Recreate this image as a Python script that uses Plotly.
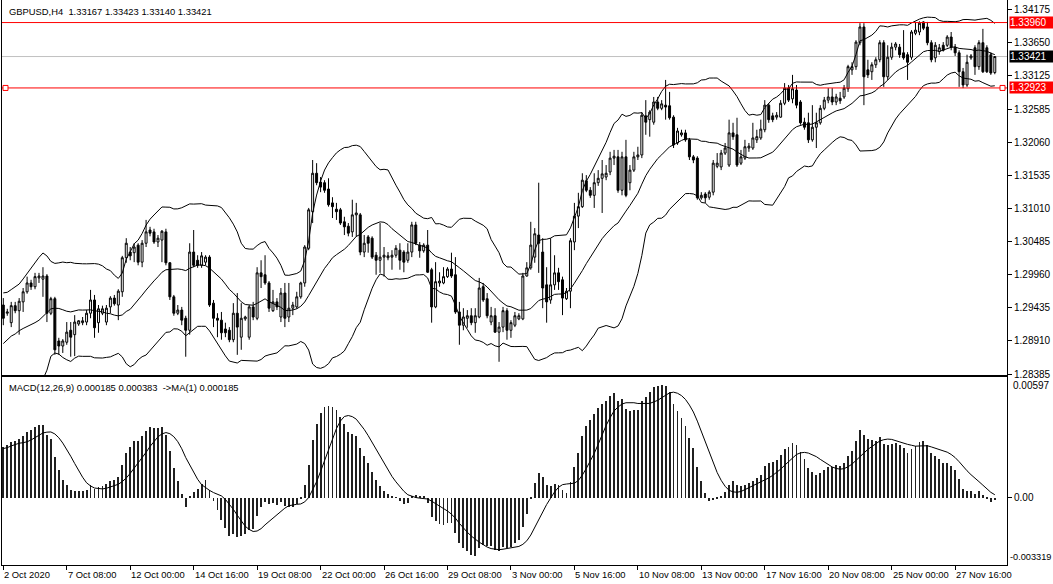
import numpy as np
import pandas as pd
import plotly.graph_objects as go

# ---------------- data ----------------
symbol_header = "GBPUSD,H4  1.33167 1.33423 1.33140 1.33421"
macd_header = "MACD(12,26,9) 0.000185 0.000383  ->MA(1) 0.000185"

time_labels = ["2 Oct 2020", "7 Oct 08:00", "12 Oct 00:00", "14 Oct 16:00", "19 Oct 08:00",
               "22 Oct 00:00", "26 Oct 16:00", "29 Oct 08:00", "3 Nov 00:00", "5 Nov 16:00",
               "10 Nov 08:00", "13 Nov 00:00", "17 Nov 16:00", "20 Nov 08:00", "25 Nov 00:00",
               "27 Nov 16:00"]
time_label_bars = [0, 16, 32, 48, 64, 80, 96, 112, 128, 144, 160, 176, 192, 208, 224, 240]

price_ticks = [1.34175, 1.33650, 1.33125, 1.32585, 1.32060, 1.31535, 1.31010,
               1.30485, 1.29960, 1.29435, 1.28910, 1.28385]
resistance_level = 1.33960
support_level = 1.32923
bid_price = 1.33421
macd_top_label = 0.00597
macd_bottom_label = -0.003319

# estimated closes before the first visible bar (indicator warm-up only)
prior_closes = [1.2735, 1.2728, 1.2742, 1.2755, 1.2748, 1.2760, 1.2775, 1.2770, 1.2762, 1.2780,
                1.2795, 1.2790, 1.2810, 1.2825, 1.2818, 1.2830, 1.2845, 1.2838, 1.2850, 1.2862,
                1.2845, 1.2810, 1.2837, 1.2871, 1.2851, 1.2898, 1.2925, 1.2905, 1.2938, 1.2918,
                1.2864, 1.2837, 1.2824, 1.2857, 1.2891, 1.2932, 1.2952, 1.2918, 1.2884, 1.2898]

opens = [1.2948, 1.2935, 1.2920, 1.2947, 1.2939, 1.2953, 1.2969, 1.2983, 1.2977, 1.2991,
         1.2989, 1.2994, 1.2935, 1.2958, 1.2891, 1.2883, 1.2889, 1.2908, 1.2901, 1.2918,
         1.2920, 1.2921, 1.2935, 1.2956, 1.2920, 1.2935, 1.2921, 1.2945, 1.2959, 1.2948,
         1.2969, 1.3023, 1.3032, 1.3031, 1.3043, 1.3016, 1.3046, 1.3067, 1.3064, 1.3048,
         1.3051, 1.3064, 1.3015, 1.2961, 1.2935, 1.2940, 1.2927, 1.2908, 1.3032, 1.3019,
         1.3011, 1.3016, 1.3024, 1.2951, 1.2927, 1.2924, 1.2910, 1.2908, 1.2893, 1.2935,
         1.2897, 1.2926, 1.2897, 1.2945, 1.2927, 1.2999, 1.2996, 1.2983, 1.2939, 1.2953,
         1.2929, 1.2967, 1.2929, 1.2943, 1.2945, 1.2961, 1.2983, 1.3038, 1.3096, 1.3157,
         1.3143, 1.3142, 1.3132, 1.3110, 1.3100, 1.3099, 1.3080, 1.3073, 1.3064, 1.3091,
         1.3091, 1.3032, 1.3056, 1.3054, 1.3027, 1.3019, 1.3024, 1.3023, 1.3024, 1.3027,
         1.3035, 1.3032, 1.3019, 1.3032, 1.3075, 1.3043, 1.3034, 1.3043, 1.3004, 1.2945,
         1.2983, 1.2983, 1.2993, 1.3005, 1.2996, 1.2937, 1.2916, 1.2927, 1.2931, 1.2920,
         1.2929, 1.2977, 1.2958, 1.2921, 1.2931, 1.2905, 1.2913, 1.2939, 1.2908, 1.2916,
         1.2926, 1.2926, 1.2994, 1.3007, 1.3024, 1.3059, 1.3032, 1.2980, 1.2956, 1.2980,
         1.2999, 1.2988, 1.2958, 1.2970, 1.3048, 1.3089, 1.3104, 1.3145, 1.3130, 1.3122,
         1.3142, 1.3149, 1.3151, 1.3159, 1.3181, 1.3183, 1.3130, 1.3183, 1.3142, 1.3162,
         1.3183, 1.3186, 1.3248, 1.3242, 1.3238, 1.3270, 1.3260, 1.3265, 1.3264, 1.3246,
         1.3205, 1.3218, 1.3221, 1.3210, 1.3183, 1.3181, 1.3118, 1.3124, 1.3119, 1.3127,
         1.3168, 1.3167, 1.3189, 1.3170, 1.3221, 1.3218, 1.3173, 1.3181, 1.3197, 1.3197,
         1.3210, 1.3213, 1.3226, 1.3265, 1.3248, 1.3246, 1.3246, 1.3268, 1.3292, 1.3275,
         1.3289, 1.3270, 1.3238, 1.3237, 1.3210, 1.3230, 1.3237, 1.3260, 1.3273, 1.3278,
         1.3270, 1.3276, 1.3278, 1.3291, 1.3321, 1.3326, 1.3364, 1.3389, 1.3321, 1.3318,
         1.3329, 1.3337, 1.3364, 1.3310, 1.3341, 1.3357, 1.3357, 1.3348, 1.3345, 1.3341,
         1.3379, 1.3381, 1.3397, 1.3389, 1.3364, 1.3340, 1.3350, 1.3360, 1.3360, 1.3373,
         1.3357, 1.3348, 1.3318, 1.3297, 1.3340, 1.3356, 1.3326, 1.3364, 1.3356, 1.3345,
         1.33167]

highs = [1.2959, 1.2942, 1.2953, 1.2953, 1.2959, 1.2975, 1.2993, 1.2988, 1.2999, 1.2999,
         1.3008, 1.2997, 1.2961, 1.2961, 1.2896, 1.2894, 1.2921, 1.2921, 1.2932, 1.2924,
         1.2929, 1.2940, 1.2972, 1.2964, 1.2948, 1.2947, 1.2948, 1.2962, 1.2964, 1.2973,
         1.3026, 1.3054, 1.3040, 1.3046, 1.3046, 1.3051, 1.3083, 1.3072, 1.3069, 1.3059,
         1.3067, 1.3069, 1.3016, 1.2964, 1.2948, 1.2945, 1.2931, 1.3046, 1.3067, 1.3027,
         1.3032, 1.3027, 1.3027, 1.2956, 1.2935, 1.2937, 1.2920, 1.2913, 1.2951, 1.2967,
         1.2951, 1.2931, 1.2948, 1.2953, 1.3008, 1.3019, 1.3027, 1.2986, 1.2972, 1.2959,
         1.2975, 1.2983, 1.2983, 1.2953, 1.2969, 1.2985, 1.3043, 1.3102, 1.3178, 1.3173,
         1.3151, 1.3146, 1.3149, 1.3119, 1.3110, 1.3102, 1.3088, 1.3078, 1.3115, 1.3110,
         1.3094, 1.3059, 1.3059, 1.3057, 1.3032, 1.3078, 1.3040, 1.3032, 1.3035, 1.3043,
         1.3046, 1.3035, 1.3046, 1.3080, 1.3080, 1.3048, 1.3046, 1.3067, 1.3007, 1.3016,
         1.3000, 1.3008, 1.3008, 1.3031, 1.3024, 1.2953, 1.2943, 1.2940, 1.2943, 1.2943,
         1.2991, 1.2983, 1.2967, 1.2945, 1.2943, 1.2921, 1.2945, 1.2943, 1.2924, 1.2937,
         1.2935, 1.2999, 1.3016, 1.3080, 1.3070, 1.3142, 1.3054, 1.3008, 1.3054, 1.3027,
         1.3007, 1.2993, 1.2975, 1.3054, 1.3110, 1.3126, 1.3157, 1.3154, 1.3135, 1.3157,
         1.3162, 1.3178, 1.3170, 1.3191, 1.3194, 1.3194, 1.3191, 1.3210, 1.3170, 1.3191,
         1.3199, 1.3254, 1.3273, 1.3257, 1.3278, 1.3278, 1.3273, 1.3305, 1.3286, 1.3249,
         1.3229, 1.3226, 1.3226, 1.3213, 1.3186, 1.3184, 1.3127, 1.3127, 1.3130, 1.3178,
         1.3189, 1.3194, 1.3205, 1.3242, 1.3237, 1.3245, 1.3194, 1.3210, 1.3205, 1.3237,
         1.3226, 1.3242, 1.3273, 1.3268, 1.3253, 1.3254, 1.3273, 1.3300, 1.3297, 1.3313,
         1.3297, 1.3273, 1.3245, 1.3253, 1.3265, 1.3253, 1.3265, 1.3278, 1.3292, 1.3292,
         1.3283, 1.3286, 1.3297, 1.3329, 1.3333, 1.3368, 1.3395, 1.3395, 1.3337, 1.3333,
         1.3341, 1.3368, 1.3368, 1.3360, 1.3364, 1.3365, 1.3362, 1.3384, 1.3349, 1.3384,
         1.3397, 1.3398, 1.3398, 1.3397, 1.3368, 1.3365, 1.3362, 1.3365, 1.3376, 1.3381,
         1.3362, 1.3352, 1.3324, 1.3345, 1.3346, 1.3360, 1.3368, 1.3386, 1.3360, 1.3349,
         1.33423]

lows = [1.2916, 1.2931, 1.2913, 1.2935, 1.2901, 1.2937, 1.2966, 1.2972, 1.2973, 1.2983,
        1.2961, 1.2921, 1.2932, 1.2869, 1.2869, 1.2872, 1.2885, 1.2866, 1.2867, 1.2915,
        1.2916, 1.2916, 1.2927, 1.2896, 1.2904, 1.2932, 1.2916, 1.2935, 1.2947, 1.2924,
        1.2961, 1.3015, 1.3019, 1.3016, 1.3011, 1.3008, 1.3040, 1.3057, 1.3045, 1.3040,
        1.3016, 1.3011, 1.2956, 1.2931, 1.2932, 1.2916, 1.2866, 1.2901, 1.3008, 1.3007,
        1.3007, 1.3011, 1.2945, 1.2913, 1.2897, 1.2893, 1.2897, 1.2889, 1.2889, 1.2869,
        1.2877, 1.2923, 1.2893, 1.2924, 1.2924, 1.2975, 1.2980, 1.2937, 1.2937, 1.2940,
        1.2921, 1.2913, 1.2921, 1.2932, 1.2942, 1.2958, 1.2977, 1.3035, 1.3078, 1.3138,
        1.3127, 1.3126, 1.3104, 1.3086, 1.3083, 1.3075, 1.3059, 1.3057, 1.3056, 1.3056,
        1.3027, 1.3024, 1.3031, 1.3021, 1.2996, 1.2999, 1.2993, 1.3019, 1.3004, 1.3023,
        1.3004, 1.3000, 1.3015, 1.3024, 1.3043, 1.3023, 1.3031, 1.2999, 1.2920, 1.2943,
        1.2977, 1.2981, 1.2991, 1.2991, 1.2934, 1.2885, 1.2908, 1.2912, 1.2916, 1.2904,
        1.2927, 1.2953, 1.2927, 1.2916, 1.2904, 1.2858, 1.2905, 1.2893, 1.2896, 1.2913,
        1.2924, 1.2924, 1.2993, 1.3004, 1.3015, 1.2999, 1.2943, 1.2920, 1.2950, 1.2972,
        1.2972, 1.2932, 1.2956, 1.2943, 1.3035, 1.3070, 1.3102, 1.3127, 1.3118, 1.3102,
        1.3137, 1.3094, 1.3146, 1.3154, 1.3170, 1.3126, 1.3122, 1.3119, 1.3130, 1.3159,
        1.3178, 1.3181, 1.3218, 1.3215, 1.3234, 1.3257, 1.3257, 1.3242, 1.3242, 1.3197,
        1.3202, 1.3215, 1.3207, 1.3178, 1.3173, 1.3115, 1.3115, 1.3110, 1.3115, 1.3122,
        1.3165, 1.3162, 1.3186, 1.3167, 1.3210, 1.3167, 1.3170, 1.3178, 1.3191, 1.3194,
        1.3205, 1.3210, 1.3222, 1.3237, 1.3238, 1.3242, 1.3245, 1.3265, 1.3270, 1.3268,
        1.3260, 1.3234, 1.3226, 1.3205, 1.3207, 1.3197, 1.3234, 1.3257, 1.3268, 1.3265,
        1.3265, 1.3267, 1.3275, 1.3286, 1.3313, 1.3321, 1.3360, 1.3265, 1.3308, 1.3305,
        1.3324, 1.3333, 1.3294, 1.3305, 1.3337, 1.3352, 1.3340, 1.3337, 1.3305, 1.3337,
        1.3376, 1.3376, 1.3384, 1.3360, 1.3333, 1.3333, 1.3345, 1.3350, 1.3357, 1.3352,
        1.3343, 1.3294, 1.3292, 1.3294, 1.3337, 1.3313, 1.3321, 1.3316, 1.3316, 1.3313,
        1.33140]

closes = [1.2927, 1.2937, 1.2947, 1.2939, 1.2954, 1.2969, 1.2983, 1.2977, 1.2993, 1.2994,
          1.2994, 1.2935, 1.2958, 1.2877, 1.2883, 1.2891, 1.2905, 1.2897, 1.2921, 1.2923,
          1.2923, 1.2935, 1.2956, 1.2912, 1.2942, 1.2942, 1.2943, 1.2959, 1.2950, 1.2970,
          1.3023, 1.3046, 1.3026, 1.3040, 1.3016, 1.3046, 1.3064, 1.3062, 1.3048, 1.3054,
          1.3065, 1.3015, 1.2961, 1.2935, 1.2940, 1.2924, 1.2908, 1.3032, 1.3011, 1.3011,
          1.3026, 1.3024, 1.2948, 1.2927, 1.2924, 1.2904, 1.2904, 1.2893, 1.2935, 1.2913,
          1.2927, 1.2929, 1.2945, 1.2929, 1.2999, 1.2993, 1.2983, 1.2943, 1.2953, 1.2945,
          1.2967, 1.2927, 1.2943, 1.2948, 1.2961, 1.2983, 1.3040, 1.3099, 1.3157, 1.3142,
          1.3135, 1.3130, 1.3107, 1.3104, 1.3096, 1.3078, 1.3072, 1.3062, 1.3091, 1.3094,
          1.3032, 1.3046, 1.3046, 1.3024, 1.3019, 1.3024, 1.3027, 1.3026, 1.3027, 1.3038,
          1.3019, 1.3016, 1.3032, 1.3075, 1.3046, 1.3034, 1.3043, 1.3000, 1.2945, 1.2985,
          1.2986, 1.2993, 1.3005, 1.2994, 1.2937, 1.2916, 1.2929, 1.2931, 1.2920, 1.2931,
          1.2975, 1.2956, 1.2931, 1.2931, 1.2905, 1.2913, 1.2939, 1.2908, 1.2920, 1.2931,
          1.2931, 1.2994, 1.3007, 1.3043, 1.3061, 1.3046, 1.2975, 1.2953, 1.2980, 1.2999,
          1.2985, 1.2959, 1.2970, 1.3050, 1.3089, 1.3104, 1.3146, 1.3130, 1.3122, 1.3142,
          1.3149, 1.3156, 1.3157, 1.3181, 1.3184, 1.3130, 1.3183, 1.3122, 1.3162, 1.3183,
          1.3186, 1.3249, 1.3238, 1.3254, 1.3270, 1.3260, 1.3267, 1.3262, 1.3245, 1.3202,
          1.3224, 1.3221, 1.3210, 1.3183, 1.3178, 1.3118, 1.3122, 1.3118, 1.3127, 1.3173,
          1.3173, 1.3189, 1.3197, 1.3221, 1.3215, 1.3170, 1.3183, 1.3199, 1.3200, 1.3213,
          1.3215, 1.3227, 1.3265, 1.3242, 1.3242, 1.3249, 1.3268, 1.3292, 1.3273, 1.3291,
          1.3265, 1.3237, 1.3230, 1.3210, 1.3230, 1.3237, 1.3260, 1.3273, 1.3278, 1.3270,
          1.3278, 1.3272, 1.3292, 1.3326, 1.3326, 1.3365, 1.3389, 1.3310, 1.3313, 1.3329,
          1.3337, 1.3364, 1.3310, 1.3341, 1.3357, 1.3362, 1.3345, 1.3340, 1.3333, 1.3381,
          1.3384, 1.3395, 1.3387, 1.3364, 1.3337, 1.3360, 1.3356, 1.3352, 1.3373, 1.3357,
          1.3348, 1.3318, 1.3297, 1.3333, 1.3343, 1.3326, 1.3364, 1.3318, 1.3318, 1.3316,
          1.33421]

# ---------------- indicators ----------------
bars = np.arange(len(closes))
all_close = np.array(prior_closes + closes)
n_prior = len(prior_closes)


def ema(x, n):
    a = 2.0 / (n + 1)
    out = np.empty_like(x)
    out[0] = x[0]
    for i in range(1, len(x)):
        out[i] = a * x[i] + (1 - a) * out[i - 1]
    return out


s = pd.Series(all_close)
bb_mid = s.rolling(20).mean().to_numpy()[n_prior:]
bb_std = s.rolling(20).std(ddof=0).to_numpy()[n_prior:]
bb_up = bb_mid + 2 * bb_std
bb_lo = bb_mid - 2 * bb_std
macd_all = ema(all_close, 12) - ema(all_close, 26)
signal_all = pd.Series(macd_all).rolling(9).mean().to_numpy()
macd = macd_all[n_prior:]
signal = signal_all[n_prior:]

# ---------------- figure ----------------
W, H = 1053, 584
ML, MR, MT, MB = 2, 46, 0, 19
plot_h = H - MT - MB
main_bottom_px = 375
macd_top_px = 377
main_domain = [(plot_h - main_bottom_px) / plot_h, 1.0]
macd_domain = [0.0, (plot_h - macd_top_px) / plot_h]
px_per_price = 1 / 0.0001586
y_top = 1.34175 + 9 / px_per_price
y_bot = y_top - main_bottom_px / px_per_price
bar_px = 3.966
x_left = -(3.3 - 2) / bar_px
x_right = x_left + (W - ML - MR) / bar_px

FONT = "Liberation Sans, Arial, sans-serif"
TXT = 9.4

fig = go.Figure()
for band in (bb_up, bb_mid, bb_lo):
    fig.add_trace(go.Scatter(x=bars, y=band, mode="lines",
                             line=dict(color="black", width=1),
                             hoverinfo="skip", xaxis="x", yaxis="y"))

fig.add_trace(go.Candlestick(
    x=bars, open=opens, high=highs, low=lows, close=closes,
    increasing=dict(line=dict(color="black", width=1), fillcolor="white"),
    decreasing=dict(line=dict(color="black", width=1), fillcolor="black"),
    xaxis="x", yaxis="y"))

fig.add_trace(go.Bar(x=bars, y=macd, width=0.22, marker=dict(color="#202020", line=dict(width=0)),
                     xaxis="x2", yaxis="y2"))
fig.add_trace(go.Scatter(x=bars, y=signal, mode="lines", line=dict(color="black", width=1),
                         xaxis="x2", yaxis="y2"))

shapes = [
    dict(type="line", xref="paper", x0=0, x1=1, yref="y", y0=bid_price, y1=bid_price,
         line=dict(color="#C0C0C0", width=1), layer="below"),
    dict(type="line", xref="paper", x0=0, x1=1, yref="y", y0=resistance_level, y1=resistance_level,
         line=dict(color="#FF0000", width=1)),
    dict(type="line", xref="paper", x0=0, x1=1, yref="y", y0=support_level, y1=support_level,
         line=dict(color="#FF0000", width=1)),
    dict(type="rect", xref="paper", xsizemode="pixel", xanchor=0, x0=1, x1=6,
         yref="y", ysizemode="pixel", yanchor=support_level, y0=-2.5, y1=2.5,
         line=dict(color="#FF0000", width=1), fillcolor="white"),
    dict(type="rect", xref="paper", xsizemode="pixel", xanchor=1, x0=-7, x1=-2,
         yref="y", ysizemode="pixel", yanchor=support_level, y0=-2.5, y1=2.5,
         line=dict(color="#FF0000", width=1), fillcolor="white"),
]

annotations = [
    dict(text=symbol_header, xref="paper", yref="paper", x=0, y=1, xanchor="left", yanchor="top",
         xshift=5, yshift=-4, showarrow=False, font=dict(family=FONT, size=TXT, color="black")),
    dict(text=macd_header, xref="paper", yref="paper", x=0, y=macd_domain[1], xanchor="left",
         yanchor="top", xshift=5, yshift=-3, showarrow=False,
         font=dict(family=FONT, size=TXT, color="black")),
    dict(text=f"{macd_top_label:.5f}", xref="paper", yref="paper", x=1, y=macd_domain[1],
         xanchor="left", yanchor="top", xshift=4, yshift=-1, showarrow=False,
         font=dict(family=FONT, size=10, color="black")),
    dict(text=f"{macd_bottom_label:.6f}", xref="paper", yref="paper", x=1, y=0,
         xanchor="left", yanchor="bottom", xshift=1, yshift=1, showarrow=False,
         font=dict(family=FONT, size=9.2, color="black")),
]
for lvl, bg in ((resistance_level, "#FF0000"), (support_level, "#FF0000"), (bid_price, "black")):
    annotations.append(dict(text=f"{lvl:.5f}", xref="paper", yref="y", x=1, y=lvl,
                            xanchor="left", yanchor="middle", xshift=2, showarrow=False,
                            bgcolor=bg, width=43, height=11, borderpad=0, align="left",
                            font=dict(family=FONT, size=10, color="white")))
for b, lab in zip(time_label_bars, time_labels):
    annotations.append(dict(text=lab, xref="x2", yref="paper", x=b, y=0, xanchor="left",
                            yanchor="top", xshift=-1, yshift=-2, showarrow=False,
                            font=dict(family=FONT, size=TXT, color="black")))

axis_common = dict(showgrid=False, zeroline=False, showline=True, mirror=True,
                   linecolor="black", linewidth=1, tickcolor="black",
                   tickfont=dict(family=FONT, size=10, color="black"))

fig.update_layout(
    width=W, height=H,
    margin=dict(l=ML, r=MR, t=MT, b=MB),
    paper_bgcolor="white", plot_bgcolor="white",
    showlegend=False,
    xaxis=dict(domain=[0, 1], anchor="y", range=[x_left, x_right], showticklabels=False,
               ticks="", rangeslider=dict(visible=False), **axis_common),
    yaxis=dict(domain=main_domain, anchor="x", range=[y_bot, y_top], side="right",
               tickvals=price_ticks, ticktext=[f"{v:.5f}" for v in price_ticks],
               ticks="outside", ticklen=4, **axis_common),
    xaxis2=dict(domain=[0, 1], anchor="y2", matches="x", range=[x_left, x_right],
                tickvals=time_label_bars, showticklabels=False, ticks="outside", ticklen=4,
                **axis_common),
    yaxis2=dict(domain=macd_domain, anchor="x2", range=[macd_bottom_label, macd_top_label],
                side="right", tickvals=[0], ticktext=["0.00"], ticks="outside", ticklen=4,
                **axis_common),
    shapes=shapes,
    annotations=annotations,
    bargap=0,
)

fig.write_html("out.html", config={"displayModeBar": False},
               post_script="document.body.style.margin='0';document.body.style.padding='0';")
